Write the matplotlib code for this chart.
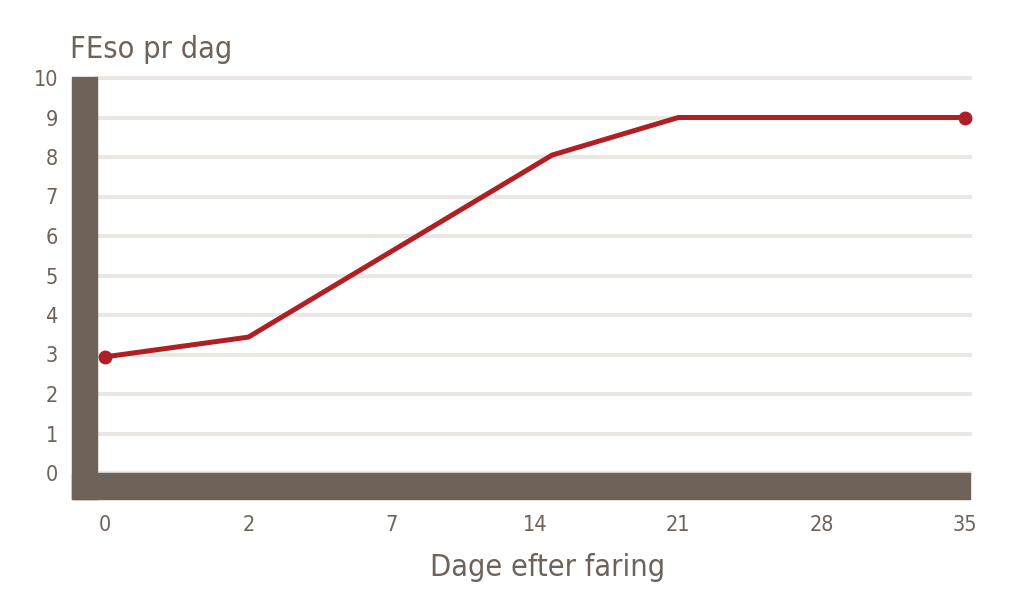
import matplotlib
matplotlib.use('Agg')
import matplotlib.pyplot as plt
from matplotlib.patches import Rectangle

# data
day_labels = ['0', '2', '7', '14', '21', '28', '35']
# line points, x given in tick-slot units
line_x = [0, 1, 3.12, 4, 6]
feso = [2.94, 3.44, 8.05, 9.0, 9.0]
y_ticks = list(range(0, 11))

brown = '#6f6259'
red = '#b01f24'
grid_col = '#ebe7e4'

plt.rcParams['font.family'] = ['DejaVu Sans']
plt.rcParams['font.stretch'] = 'condensed'

W, H = 1024, 613
fig = plt.figure(figsize=(W / 100, H / 100), dpi=100)

# plot area in pixels
left, right, top, bottom = 97, 970, 78, 473
ax = fig.add_axes([left / W, 1 - bottom / H, (right - left) / W, (bottom - top) / H])

ax.set_ylim(0, 10)
ax.set_xlim(-0.056, 6.035)

ax.plot(line_x, feso, color=red, lw=3.6, solid_joinstyle='miter', zorder=3, clip_on=False)
ax.plot([line_x[0], line_x[-1]], [feso[0], feso[-1]], 'o', color=red, ms=9, zorder=4, clip_on=False)

ax.set_yticks(y_ticks)
ax.set_yticklabels([str(t) for t in y_ticks])
ax.set_xticks(range(len(day_labels)))
ax.set_xticklabels(day_labels)
ax.tick_params(length=0, colors=brown, labelsize=15.5)
ax.tick_params(axis='y', pad=28)
ax.tick_params(axis='x', pad=30)
ax.grid(axis='y', color=grid_col, lw=3)
for gl in ax.get_ygridlines():
    gl.set_clip_on(False)
ax.set_axisbelow(True)
for s in ax.spines.values():
    s.set_visible(False)

# thick brown "axis" walls
wall = 25 / W
bar = 26 / H
fig.patches.append(Rectangle((72 / W, 1 - 499 / H), wall, (499 - 77) / H,
                             transform=fig.transFigure, color=brown, zorder=5))
fig.patches.append(Rectangle((72 / W, 1 - 499 / H), (970 - 72) / W, bar,
                             transform=fig.transFigure, color=brown, zorder=5))

fig.text(70 / W, 1 - 50 / H, 'FEso pr dag', color=brown, fontsize=22, va='center', ha='left')
fig.text(548 / W, 1 - 568 / H, 'Dage efter faring', color=brown, fontsize=22, va='center', ha='center')

fig.savefig('out.png', dpi=100)
